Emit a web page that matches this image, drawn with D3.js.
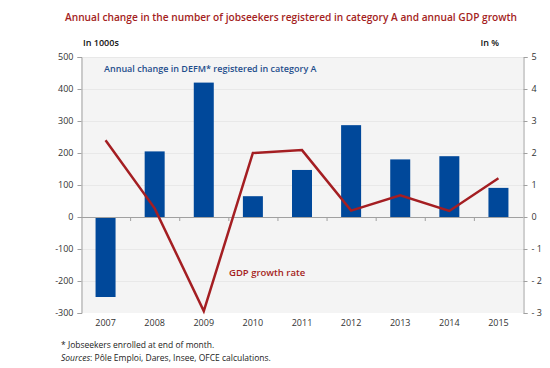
<!DOCTYPE html>
<html><head><meta charset="utf-8">
<script src="https://cdn.jsdelivr.net/npm/d3@7"></script>
<style>
html,body{margin:0;padding:0;background:#fff;}
svg{display:block;font-family:"Open Sans",sans-serif;}
</style></head>
<body><svg id="chart" width="550" height="368"></svg>
<script>
const years = ["2007","2008","2009","2010","2011","2012","2013","2014","2015"];
const jobseekers = [-250, 205, 420, 65, 147, 287, 180, 190, 91];
const gdpGrowth = [2.4, 0.27, -2.94, 2.0, 2.09, 0.2, 0.68, 0.19, 1.21];
const leftTicks = [-300,-200,-100,0,100,200,300,400,500];
const rightTicks = [-3,-2,-1,0,1,2,3,4,5];

const svg = d3.select("#chart");
const m = {l:81, r:523, t:57, b:313};
const red = "#a41e22", blue = "#00489a";

const x = d3.scaleBand().domain(years).range([m.l, m.r]);
const yL = d3.scaleLinear().domain([-300,500]).range([m.b, m.t]);
const yR = d3.scaleLinear().domain([-3,5]).range([m.b, m.t]);

svg.append("rect").attr("x",m.l).attr("y",m.t).attr("width",m.r-m.l).attr("height",m.b-m.t).attr("fill","#f4f4f4");

// gridlines
svg.append("g").selectAll("line").data(leftTicks.filter(d=>d!==0&&d!==-300)).join("line")
  .attr("x1",m.l).attr("x2",m.r).attr("y1",d=>yL(d)+0.5).attr("y2",d=>yL(d)+0.5)
  .attr("stroke","#e8e8e8").attr("stroke-width",1);

// bars
svg.append("g").selectAll("rect").data(years).join("rect")
  .attr("x",(d)=>x(d)+x.bandwidth()/2-10)
  .attr("width",20)
  .attr("y",(d,i)=>yL(Math.max(0,jobseekers[i])))
  .attr("height",(d,i)=>Math.abs(yL(jobseekers[i])-yL(0)))
  .attr("fill",blue);

// zero axis with band ticks
svg.append("line").attr("x1",m.l).attr("x2",m.r).attr("y1",yL(0)+0.5).attr("y2",yL(0)+0.5).attr("stroke","#a0a0a0").attr("stroke-width",1);
svg.append("g").selectAll("line").data(years.slice(1)).join("line")
  .attr("x1",d=>x(d)+0.5).attr("x2",d=>x(d)+0.5).attr("y1",yL(0)).attr("y2",yL(0)+4)
  .attr("stroke","#a0a0a0");

// left axis
const gl = svg.append("g").attr("transform",`translate(${m.l+0.5},0)`)
  .call(d3.axisLeft(yL).tickValues(leftTicks).tickSize(4).tickPadding(4));
gl.select(".domain").attr("stroke","#a0a0a0");
gl.selectAll(".tick line").attr("stroke","#a0a0a0");
gl.selectAll(".tick text").attr("font-size",9).attr("fill","#333").attr("font-family","Open Sans").text(d=>d);

// right axis
const gr = svg.append("g").attr("transform",`translate(${m.r+0.5},0)`)
  .call(d3.axisRight(yR).tickValues(rightTicks).tickSize(4).tickPadding(4).tickFormat(d=>d<0?"- "+Math.abs(d):d));
gr.select(".domain").attr("stroke","#a0a0a0");
gr.selectAll(".tick line").attr("stroke","#a0a0a0");
gr.selectAll(".tick text").attr("font-size",9).attr("fill","#333").attr("font-family","Open Sans");

// x labels
svg.append("g").selectAll("text").data(years).join("text")
  .attr("x",d=>x(d)+x.bandwidth()/2).attr("y",m.b+13)
  .attr("text-anchor","middle").attr("font-size",9).attr("fill","#333").text(d=>d);

// line
const line = d3.line().x((d,i)=>x(years[i])+x.bandwidth()/2).y(d=>yR(d));
svg.append("path").datum(gdpGrowth).attr("d",line).attr("fill","none")
  .attr("stroke",red).attr("stroke-width",2.5).attr("stroke-linejoin","miter");

// texts
svg.append("text").attr("x",65).attr("y",21)
  .attr("font-size",10.5).attr("font-weight",600).attr("fill",red)
  .attr("textLength",452).attr("lengthAdjust","spacingAndGlyphs")
  .text("Annual change in the number of jobseekers registered in category A and annual GDP growth");
svg.append("text").attr("x",83).attr("y",46).attr("font-size",9).attr("font-weight",600).attr("fill","#111").text("In 1000s");
svg.append("text").attr("x",499).attr("y",46).attr("text-anchor","end").attr("font-size",9).attr("font-weight",600).attr("fill","#111").text("In %");
svg.append("text").attr("x",104).attr("y",72).attr("font-size",9).attr("font-weight",600).attr("fill","#1f4e8c").text("Annual change in DEFM* registered in category A");
svg.append("text").attr("x",229).attr("y",276).attr("font-size",9.5).attr("font-weight",600).attr("fill",red).text("GDP growth rate");
svg.append("text").attr("x",61).attr("y",348).attr("font-size",8.5).attr("fill","#222").text("* Jobseekers enrolled at end of month.");
const s = svg.append("text").attr("x",61).attr("y",361).attr("font-size",8.5).attr("fill","#222");
s.append("tspan").attr("font-style","italic").text("Sources");
s.append("tspan").text(": Pôle Emploi, Dares, Insee, OFCE calculations.");
</script></body></html>
